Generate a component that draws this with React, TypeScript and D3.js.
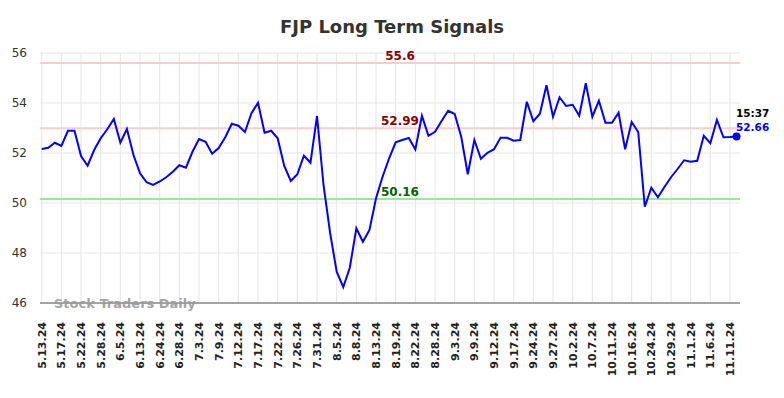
import React from 'react';
import * as d3 from 'd3';

// one value per session
const prices = [
  52.16, 52.21, 52.41, 52.28, 52.89, 52.89, 51.88, 51.49, 52.12, 52.59,
  52.95, 53.36, 52.41, 52.96, 51.92, 51.19, 50.83, 50.72, 50.86, 51.03,
  51.25, 51.51, 51.41, 52.05, 52.56, 52.45, 51.97, 52.2, 52.63, 53.17,
  53.09, 52.84, 53.59, 54.01, 52.81, 52.89, 52.59, 51.48, 50.88, 51.15,
  51.89, 51.61, 53.48, 50.7, 48.8, 47.25, 46.63, 47.41, 48.99, 48.45,
  48.92, 50.19, 51.05, 51.79, 52.43, 52.52, 52.6, 52.14, 53.49, 52.69,
  52.85, 53.28, 53.69, 53.56, 52.65, 51.15, 52.52, 51.77, 52.01, 52.15,
  52.61, 52.61, 52.49, 52.52, 54.05, 53.27, 53.57, 54.71, 53.45, 54.23,
  53.88, 53.93, 53.49, 54.79, 53.45, 54.09, 53.21, 53.21, 53.61, 52.15,
  53.24, 52.84, 49.85, 50.61, 50.23, 50.64, 51.03, 51.36, 51.71, 51.65,
  51.69, 52.69, 52.39, 53.32, 52.63, 52.64, 52.66,
];

// a label every third point
const tickLabels = [
  '5.13.24', '5.17.24', '5.22.24', '5.28.24', '6.5.24', '6.13.24', '6.24.24',
  '6.28.24', '7.3.24', '7.9.24', '7.12.24', '7.17.24', '7.22.24', '7.26.24',
  '7.31.24', '8.5.24', '8.8.24', '8.13.24', '8.19.24', '8.22.24', '8.28.24',
  '9.3.24', '9.9.24', '9.12.24', '9.17.24', '9.24.24', '9.27.24', '10.2.24',
  '10.7.24', '10.11.24', '10.16.24', '10.24.24', '10.29.24', '11.1.24',
  '11.6.24', '11.11.24',
];

const yTicks = [46, 48, 50, 52, 54, 56];

const levels = [
  { value: 55.6, label: '55.6', line: '#ffcccc', text: '#8b0000' },
  { value: 52.99, label: '52.99', line: '#ffcccc', text: '#8b0000' },
  { value: 50.16, label: '50.16', line: '#90ee90', text: '#006400' },
];

const lastTime = '15:37';

const W = 784;
const H = 398;
const font = 'DejaVu Sans, sans-serif';

export default function App() {
  const x = d3.scaleLinear().domain([0, 105]).range([41.7, 730]);
  const y = d3.scaleLinear().domain([46, 56]).range([303, 53]);

  const line = d3
    .line<number>()
    .x((d, i) => x(i))
    .y(d => y(d));

  const lastI = prices.length - 1;
  const last = prices[lastI];

  return (
    <svg width={W} height={H} style={{ position: 'absolute', left: 0, top: 0 }}>
      <rect width={W} height={H} fill="#fff" />
      <text x={392} y={33} textAnchor="middle" fontFamily={font} fontSize={18} fontWeight="bold" fill="#333">
        FJP Long Term Signals
      </text>

      {/* grid */}
      {yTicks.map(t => (
        <line key={'h' + t} x1={40} x2={740} y1={y(t)} y2={y(t)} stroke="#e6e6e6" strokeWidth={1} />
      ))}
      {tickLabels.map((t, k) => (
        <line key={'v' + t} x1={x(k * 3)} x2={x(k * 3)} y1={y(56)} y2={y(46)} stroke="#e6e6e6" strokeWidth={1} />
      ))}

      {/* y labels */}
      {yTicks.map(t => (
        <text key={'yl' + t} x={27} y={y(t)} dy="0.35em" textAnchor="end" fontFamily={font} fontSize={12} fill="#333">
          {t}
        </text>
      ))}

      {/* x labels */}
      {tickLabels.map((t, k) => (
        <text
          key={'xl' + t}
          transform={`translate(${x(k * 3)},322) rotate(-90)`}
          dy="0.35em"
          textAnchor="end"
          fontFamily={font}
          fontSize={11}
          fontWeight="bold"
          fill="#222"
        >
          {t}
        </text>
      ))}

      {/* signal levels */}
      {levels.map(l => (
        <g key={l.label}>
          <line x1={40} x2={740} y1={y(l.value)} y2={y(l.value)} stroke={l.line} strokeWidth={2} />
          <text x={400} y={y(l.value) - 3} textAnchor="middle" fontFamily={font} fontSize={12} fontWeight="bold" fill={l.text}>
            {l.label}
          </text>
        </g>
      ))}

      <line x1={40} x2={740} y1={303} y2={303} stroke="#555" strokeWidth={1} />
      <text x={54} y={307.5} fontFamily={font} fontSize={13} fontWeight="bold" fill="#999" fillOpacity={0.9}>
        Stock Traders Daily
      </text>

      <path d={line(prices) || ''} fill="none" stroke="#0000ff" strokeWidth={2} />
      <circle cx={x(lastI)} cy={y(last)} r={4} fill="#0000ff" />
      <text x={736} y={117} fontFamily={font} fontSize={10.5} fontWeight="bold" fill="#000">
        {lastTime}
      </text>
      <text x={736} y={130.5} fontFamily={font} fontSize={10.5} fontWeight="bold" fill="#0000ff">
        {last.toFixed(2)}
      </text>
    </svg>
  );
}
